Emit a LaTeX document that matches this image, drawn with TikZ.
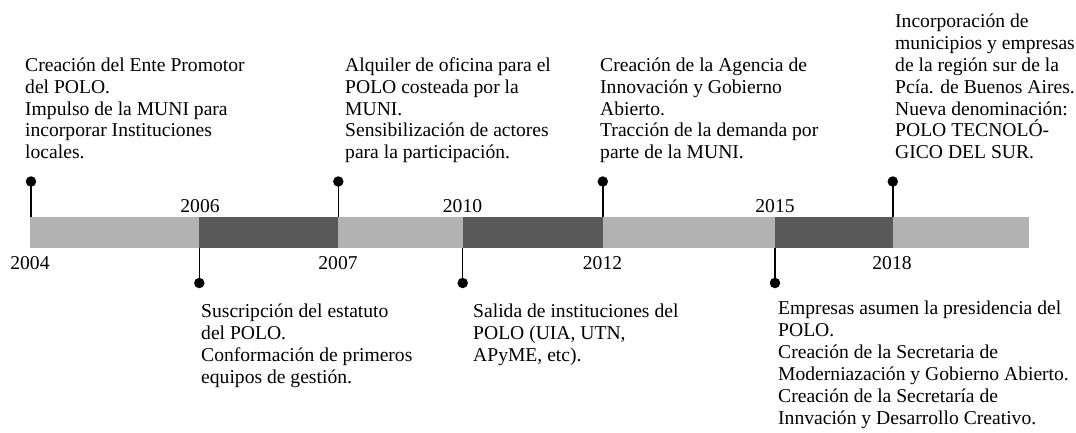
\documentclass[tikz,border=0pt]{standalone}
\usepackage{fontspec}
\setmainfont{Liberation Serif}
\definecolor{barlight}{HTML}{B2B2B2}
\definecolor{bardark}{HTML}{595959}
\setlength{\lineskiplimit}{-50pt}
\begin{document}
\begin{tikzpicture}[x=1pt,y=-1pt,
  txt/.style={inner sep=0pt, align=left, font=\fontsize{19.6}{21.9}\selectfont},
  yr/.style={inner sep=0pt, anchor=base, font=\fontsize{19.6}{21.9}\selectfont},
  pinball/.style={circle, fill=black, inner sep=0pt, minimum size=10.5pt},
  stem/.style={line width=1.4pt, black}]
\useasboundingbox (0,0) rectangle (1076,432);
% bar
\fill[barlight] (30,217) rectangle (199.3,247.5);
\fill[bardark]  (199.3,217) rectangle (338,247.5);
\fill[barlight] (338,217) rectangle (462.7,247.5);
\fill[bardark]  (462.7,217) rectangle (602.7,247.5);
\fill[barlight] (602.7,217) rectangle (775,247.5);
\fill[bardark]  (775,217) rectangle (892.8,247.5);
\fill[barlight] (892.8,217) rectangle (1028.7,247.5);
% bar anchor coordinates
\coordinate (b04) at (31,217);
\coordinate (b07) at (338.3,217);
\coordinate (b12) at (602.8,217);
\coordinate (b18) at (892.8,217);
\coordinate (b06) at (199.3,247.5);
\coordinate (b10) at (462.7,247.5);
\coordinate (b15) at (775,247.5);
% pins
\node[pinball] (p04) at (31,181.5) {};
\node[pinball] (p07) at (338.3,181.5) {};
\node[pinball] (p12) at (602.8,181.5) {};
\node[pinball] (p18) at (892.8,181.5) {};
\node[pinball] (p06) at (199.3,283) {};
\node[pinball] (p10) at (462.7,283) {};
\node[pinball] (p15) at (775,283) {};
\foreach \y in {04,07,12,18,06,10,15} {\draw[stem] (p\y.center) -- (b\y);}
% years
\node[yr] (y04) at (30,269) {2004};
\node[yr] (y06) at (200,212) {2006};
\node[yr] (y07) at (338,269) {2007};
\node[yr] (y10) at (462.5,212) {2010};
\node[yr] (y12) at (602.5,269) {2012};
\node[yr] (y15) at (775,212) {2015};
\node[yr] (y18) at (892,269) {2018};
% upper texts
\node[txt, anchor=south west] (t04) at (25,165.6) {Creación del Ente Promotor\\del POLO.\\Impulso de la MUNI para\\incorporar Instituciones\\locales.\strut};
\node[txt, anchor=south west] (t07) at (345,165.6) {Alquiler de oficina para el\\POLO costeada por la\\MUNI.\\Sensibilización de actores\\para la participación.\strut};
\node[txt, anchor=south west] (t12) at (600,165.6) {Creación de la Agencia de\\Innovación y Gobierno\\Abierto.\\Tracción de la demanda por\\parte de la MUNI.\strut};
\node[txt, anchor=south west] (t18) at (895,165.6) {Incorporación de\\municipios y empresas\\de la región sur de la\\Pcía. de Buenos Aires.\\Nueva denominación:\\POLO TECNOLÓ-\\GICO DEL SUR.\strut};
% lower texts
\node[txt, anchor=north west] (t06) at (201,302.2) {\strut Suscripción del estatuto\\del POLO.\\Conformación de primeros\\equipos de gestión.};
\node[txt, anchor=north west] (t10) at (473,302.2) {\strut Salida de instituciones del\\POLO (UIA, UTN,\\APyME, etc).};
\node[txt, anchor=north west] (t15) at (778,299.2) {\strut Empresas asumen la presidencia del\\POLO.\\Creación de la Secretaria de\\Moderniazación y Gobierno Abierto.\\Creación de la Secretaría de\\Innvación y Desarrollo Creativo.};
\end{tikzpicture}
\end{document}
